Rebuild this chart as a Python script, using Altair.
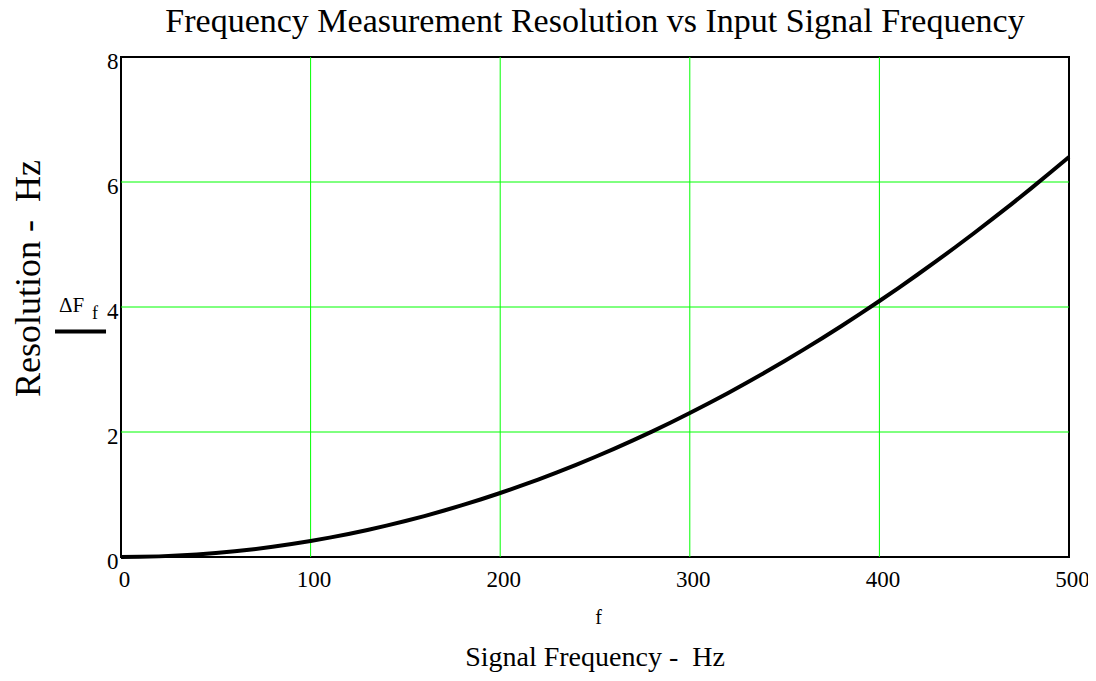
import altair as alt
import pandas as pd

# Data
freq_hz = [0, 10, 20, 30, 40, 50, 60, 70, 80, 90,
           100, 110, 120, 130, 140, 150, 160, 170, 180, 190,
           200, 210, 220, 230, 240, 250, 260, 270, 280, 290,
           300, 310, 320, 330, 340, 350, 360, 370, 380, 390,
           400, 410, 420, 430, 440, 450, 460, 470, 480, 490, 500]
resolution_hz = [0.000, 0.003, 0.010, 0.023, 0.041, 0.064, 0.092, 0.125, 0.164, 0.207,
                 0.256, 0.310, 0.369, 0.433, 0.502, 0.576, 0.655, 0.740, 0.829, 0.924,
                 1.024, 1.129, 1.239, 1.354, 1.475, 1.600, 1.731, 1.866, 2.007, 2.153,
                 2.304, 2.460, 2.621, 2.788, 2.959, 3.136, 3.318, 3.505, 3.697, 3.894,
                 4.096, 4.303, 4.516, 4.733, 4.956, 5.184, 5.417, 5.655, 5.898, 6.147, 6.400]

x_ticks = [0, 100, 200, 300, 400, 500]
y_ticks = [0, 2, 4, 6, 8]
x_grid = [100, 200, 300, 400]
y_grid = [2, 4, 6]

# legend key sample (in axis units, left of the plot area)
legend_key_x = [-34.8]
legend_key_x2 = [-7.9]
legend_key_y = [3.61]

title_text = "Frequency Measurement Resolution vs Input Signal Frequency"
x_var_label = "f"
x_title_text = "Signal Frequency -\u00a0 Hz"
y_title_text = "Resolution -\u00a0 Hz"
legend_main = ["ΔF"]
legend_sub = ["f"]
bottom_title = [x_title_text]

FONT = "Liberation Serif"
W, H = 948, 500
GREEN = "#00ff00"

df = pd.DataFrame({"f": freq_hz, "dF": resolution_hz})

x_scale = alt.Scale(domain=[0, 500], nice=False, zero=False)
y_scale = alt.Scale(domain=[0, 8], nice=False, zero=False)

gx = alt.Chart(pd.DataFrame({"gx": x_grid})).mark_rule(color=GREEN, strokeWidth=1).encode(
    x=alt.X("gx:Q", scale=x_scale)
)
gy = alt.Chart(pd.DataFrame({"gy": y_grid})).mark_rule(color=GREEN, strokeWidth=1).encode(
    y=alt.Y("gy:Q", scale=y_scale)
)

line = alt.Chart(df).mark_line(color="black", strokeWidth=4).encode(
    x=alt.X("f:Q", scale=x_scale,
            axis=alt.Axis(values=x_ticks, grid=False, format="d",
                          domain=False, ticks=False, tickSize=0,
                          labelFont=FONT, labelFontSize=23, labelColor="black",
                          labelBaseline="alphabetic", labelPadding=29, labelOffset=3,
                          labelFlush=False, labelOverlap=False,
                          title=x_var_label, titleFont=FONT, titleFontSize=20,
                          titleFontWeight="normal", titleColor="black",
                          titleX=477, titleY=66, titleBaseline="alphabetic",
                          titleAlign="center")),
    y=alt.Y("dF:Q", scale=y_scale,
            axis=alt.Axis(values=y_ticks, grid=False, format="d",
                          domain=False, ticks=False, tickSize=0,
                          labelFont=FONT, labelFontSize=23, labelColor="black",
                          labelBaseline="alphabetic", labelOffset=11, labelPadding=3,
                          labelFlush=False, labelOverlap=False,
                          title=y_title_text, titleFont=FONT, titleFontSize=36,
                          titleFontWeight="normal", titleColor="black",
                          titleX=-93, titleY=221, titleAngle=270,
                          titleBaseline="middle", titleAlign="center")),
)

leg_line = alt.Chart(pd.DataFrame({"lx": legend_key_x, "lx2": legend_key_x2,
                                   "ly": legend_key_y})).mark_rule(
    color="black", strokeWidth=4, strokeCap="butt", clip=False
).encode(x=alt.X("lx:Q", scale=x_scale), x2="lx2:Q", y=alt.Y("ly:Q", scale=y_scale))

leg_main = alt.Chart(pd.DataFrame({"t": legend_main})).mark_text(
    font=FONT, fontSize=21, color="black", align="left", baseline="alphabetic"
).encode(x=alt.value(-62), y=alt.value(255), text="t:N")

leg_sub = alt.Chart(pd.DataFrame({"s": legend_sub})).mark_text(
    font=FONT, fontSize=18, color="black", align="left", baseline="alphabetic"
).encode(x=alt.value(-29), y=alt.value(262), text="s:N")

bottom = alt.Chart(pd.DataFrame({"b": bottom_title})).mark_text(
    font=FONT, fontSize=28, color="black", align="center", baseline="alphabetic"
).encode(x=alt.value(W / 2), y=alt.value(609), text="b:N")

chart = alt.layer(gx, gy, line, leg_line, leg_main, leg_sub, bottom).properties(
    width=W, height=H,
    title=alt.TitleParams(title_text, font=FONT, fontSize=34, fontWeight="normal",
                          color="black", anchor="middle", offset=11),
    autosize=alt.AutoSizeParams(type="none"),
    padding={"left": 113, "top": 49, "right": 19, "bottom": 116},
    background="white",
).configure_view(stroke="black", strokeWidth=2)

chart.save("out.html", embed_options={"renderer": "svg", "actions": False})
